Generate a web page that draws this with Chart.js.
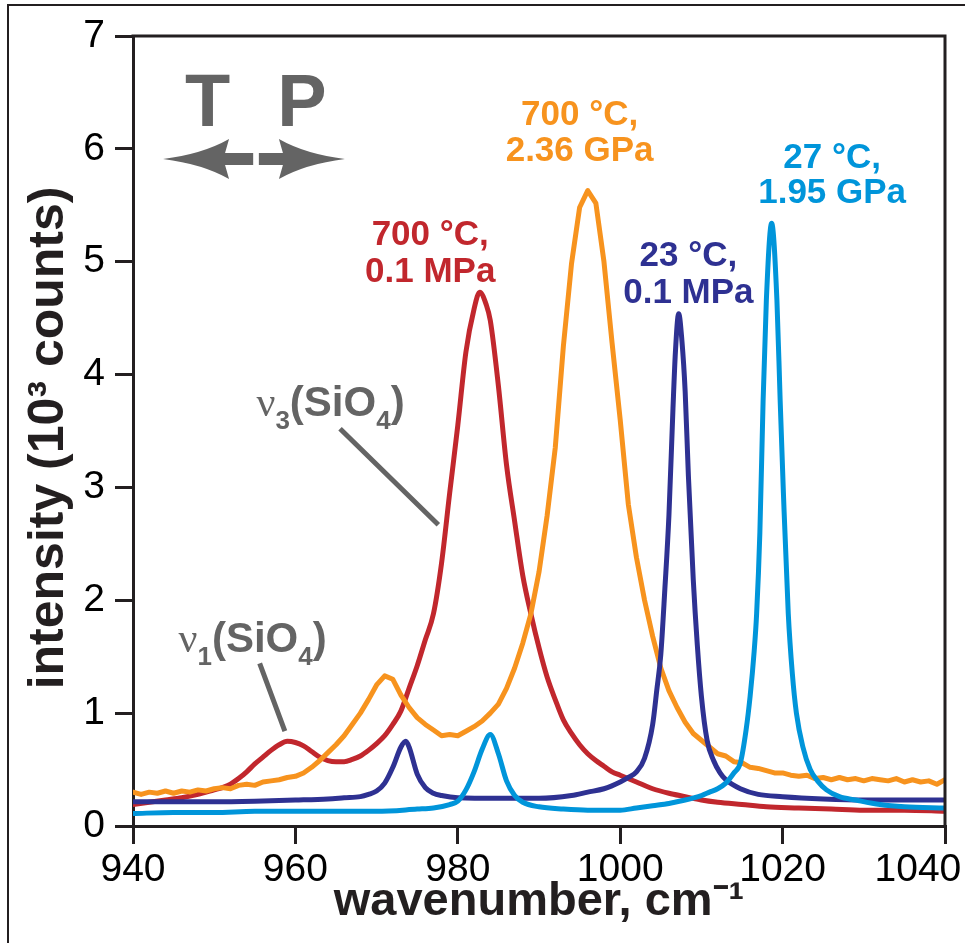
<!DOCTYPE html>
<html>
<head>
<meta charset="utf-8">
<script src="https://cdn.jsdelivr.net/npm/chart.js@4.4.0/dist/chart.umd.min.js"></script>
<style>
  html, body { margin: 0; padding: 0; background: #fff; }
  #wrap { width: 965px; height: 943px; }
</style>
</head>
<body>
<div id="wrap"><canvas id="spectra" width="965" height="943"></canvas></div>
<script>
// spectra (wavenumber in cm-1, intensity in 10^3 counts)
const redX = [940, 942, 944, 946, 948, 950, 951, 952, 953, 954, 955, 956, 957, 958, 959, 960, 961, 962, 963, 964, 965, 966, 967, 968, 969, 970, 971, 972, 973, 974, 975, 976, 977, 978, 979, 980, 981, 982, 982.7, 983.5, 984, 985, 986, 987, 988, 989, 990, 991, 992, 993, 994, 995, 996, 997, 998, 999, 1000, 1002, 1004, 1006, 1008, 1010, 1012, 1015, 1018, 1022, 1026, 1030, 1035, 1040];
const redY = [0.19, 0.21, 0.23, 0.25, 0.28, 0.32, 0.34, 0.37, 0.42, 0.48, 0.55, 0.61, 0.67, 0.72, 0.75, 0.74, 0.71, 0.66, 0.61, 0.58, 0.57, 0.57, 0.59, 0.62, 0.67, 0.73, 0.80, 0.90, 1.02, 1.22, 1.42, 1.65, 1.88, 2.33, 2.95, 3.55, 4.20, 4.58, 4.73, 4.62, 4.48, 3.90, 3.20, 2.70, 2.22, 1.88, 1.58, 1.32, 1.12, 0.94, 0.82, 0.72, 0.64, 0.58, 0.53, 0.48, 0.45, 0.39, 0.33, 0.29, 0.26, 0.23, 0.21, 0.19, 0.17, 0.16, 0.15, 0.14, 0.14, 0.13];

const orangeX = [940, 941, 942, 943, 944, 945, 946, 947, 948, 949,
  950, 951, 952, 953, 954, 955, 956, 957, 958, 959,
  960, 961, 962, 963, 964, 965, 966, 967, 968, 969,
  970, 971, 972, 973, 974, 975, 976, 977, 978, 979,
  980, 981, 982, 983, 984, 985, 986, 987, 988, 989,
  990, 991, 992, 993, 994, 995, 996, 997, 998, 999,
  1000, 1001, 1002, 1003, 1004, 1005, 1006, 1007, 1008, 1009,
  1010, 1011, 1012, 1013, 1014, 1015, 1016, 1017, 1018, 1019,
  1020, 1021, 1022, 1023, 1024, 1025, 1026, 1027, 1028, 1029,
  1030, 1031, 1032, 1033, 1034, 1035, 1036, 1037, 1038, 1039, 1040];
const orangeY = [0.30, 0.28, 0.30, 0.29, 0.31, 0.29, 0.31, 0.30, 0.32, 0.31,
  0.33, 0.34, 0.33, 0.36, 0.37, 0.36, 0.39, 0.40, 0.41, 0.43,
  0.44, 0.47, 0.52, 0.58, 0.65, 0.72, 0.80, 0.90, 1.00, 1.12,
  1.25, 1.33, 1.30, 1.16, 1.05, 0.96, 0.90, 0.85, 0.80, 0.81,
  0.80, 0.84, 0.88, 0.93, 1.00, 1.08, 1.22, 1.40, 1.62, 1.88,
  2.25, 2.75, 3.35, 4.25, 4.98, 5.48, 5.63, 5.52, 5.00, 4.28,
  3.60, 2.85, 2.38, 2.00, 1.68, 1.40, 1.20, 1.05, 0.92, 0.82,
  0.76, 0.70, 0.64, 0.62, 0.57, 0.56, 0.52, 0.51, 0.49, 0.47,
  0.47, 0.45, 0.44, 0.45, 0.42, 0.43, 0.41, 0.43, 0.41, 0.42,
  0.40, 0.42, 0.41, 0.40, 0.42, 0.39, 0.41, 0.39, 0.40, 0.37, 0.41];

const navyX = [940, 945, 950, 955, 960, 964, 966, 968, 969, 970, 971, 972, 973, 973.6, 974, 975, 976, 977, 978, 980, 985, 990, 994, 996, 998, 1000, 1001, 1002, 1003, 1004, 1004.5, 1005, 1005.5, 1006, 1006.5, 1006.8, 1007.2, 1007.6, 1008, 1008.4, 1009, 1009.5, 1010, 1010.7, 1011.5, 1012.3, 1013, 1014.8, 1017, 1020, 1025, 1030, 1035, 1040];
const navyY = [0.215, 0.215, 0.215, 0.22, 0.23, 0.24, 0.25, 0.26, 0.28, 0.31, 0.38, 0.52, 0.70, 0.75, 0.70, 0.46, 0.34, 0.29, 0.27, 0.25, 0.245, 0.245, 0.27, 0.30, 0.33, 0.39, 0.43, 0.48, 0.60, 0.90, 1.20, 1.52, 2.10, 2.75, 3.70, 4.20, 4.54, 4.30, 3.85, 3.10, 2.18, 1.60, 1.15, 0.76, 0.58, 0.47, 0.41, 0.33, 0.28, 0.26, 0.24, 0.23, 0.23, 0.23];

const skyX = [940, 945, 950, 955, 960, 965, 970, 975, 977, 979, 980, 981, 982, 983, 984, 985, 986, 987, 988, 990, 993, 996, 1000, 1002, 1004, 1006, 1008, 1010, 1011, 1012, 1013, 1014, 1014.8, 1015.5, 1016, 1016.5, 1016.8, 1017.2, 1017.6, 1018, 1018.65, 1019.3, 1019.7, 1020.1, 1020.7, 1021.2, 1021.7, 1022.5, 1023.4, 1024.3, 1025.4, 1027, 1029, 1032, 1035, 1040];
const skyY = [0.11, 0.12, 0.12, 0.13, 0.13, 0.13, 0.13, 0.15, 0.16, 0.19, 0.22, 0.32, 0.48, 0.68, 0.81, 0.64, 0.40, 0.27, 0.21, 0.17, 0.15, 0.14, 0.14, 0.16, 0.18, 0.20, 0.23, 0.27, 0.30, 0.33, 0.38, 0.47, 0.56, 0.85, 1.15, 1.55, 1.88, 2.60, 3.77, 4.66, 5.34, 4.66, 3.77, 2.95, 1.88, 1.35, 1.00, 0.70, 0.50, 0.40, 0.32, 0.26, 0.23, 0.19, 0.17, 0.16];

const RED = '#c1272d', ORANGE = '#f7931e', NAVY = '#2e3192', SKY = '#0095da';
const GREY = '#646464', INK = '#231f20';
const SANS = '"Liberation Sans", Arial, Helvetica, sans-serif';

// condition labels: text lines, centre wavenumber, baseline intensity of each line
const peakLabels = [
    {lines: ['700 °C,', '0.1 MPa'], x: 976.6, y: [5.15, 4.82], color: RED},
    {lines: ['700 °C,', '2.36 GPa'], x: 995.0, y: [6.21, 5.89], color: ORANGE},
    {lines: ['23 °C,', '0.1 MPa'], x: 1008.4, y: [4.96, 4.63], color: NAVY},
    {lines: ['27 °C,', '1.95 GPa'], x: 1026.1, y: [5.83, 5.52], color: SKY}
];

function toPoints(xs, ys) {
    return xs.map((x, i) => ({x: x, y: ys[i]}));
}

function drawMode(ctx, x0, base, sub) {
    const parts = [
        ['ν', '42px "Liberation Serif", serif', 0],
        [sub, 'bold 26px ' + SANS, 13],
        ['(SiO', 'bold 42px ' + SANS, 0],
        ['4', 'bold 26px ' + SANS, 13],
        [')', 'bold 42px ' + SANS, 0]
    ];
    let cx = x0;
    parts.forEach(([t, f, dy]) => {
        ctx.font = f;
        ctx.fillText(t, cx, base + dy);
        cx += ctx.measureText(t).width;
    });
}

// arrow with swept head; dir = -1 points left, +1 points right
function drawArrow(ctx, tipX, tailX, cy, dir) {
    const headLen = 66, halfHead = 20, halfShaft = 6;
    const bx = tipX - dir * headLen;
    ctx.beginPath();
    ctx.moveTo(tipX, cy);
    ctx.quadraticCurveTo(tipX - dir * headLen * 0.6, cy - 5, bx, cy - halfHead);
    ctx.lineTo(bx + dir * 4, cy - halfShaft);
    ctx.lineTo(tailX, cy - halfShaft);
    ctx.lineTo(tailX, cy + halfShaft);
    ctx.lineTo(bx + dir * 4, cy + halfShaft);
    ctx.lineTo(bx, cy + halfHead);
    ctx.quadraticCurveTo(tipX - dir * headLen * 0.6, cy + 5, tipX, cy);
    ctx.closePath();
    ctx.fill();
}

const frame = {
    id: 'frame',
    beforeDraw(chart) {
        const ctx = chart.ctx;
        ctx.save();
        ctx.fillStyle = '#fff';
        ctx.fillRect(0, 0, chart.width, chart.height);
        ctx.strokeStyle = INK;
        ctx.lineWidth = 2;
        ctx.beginPath();
        ctx.moveTo(8, chart.height);
        ctx.lineTo(8, 5);
        ctx.lineTo(chart.width, 5);
        ctx.stroke();
        ctx.restore();
    },
    afterDraw(chart) {
        const {ctx, chartArea: a} = chart;
        ctx.save();
        ctx.strokeStyle = INK;
        ctx.lineWidth = 3;
        ctx.beginPath();
        ctx.moveTo(a.left - 1.5, a.top);
        ctx.lineTo(a.right, a.top);
        ctx.lineTo(a.right, a.bottom + 1.5);
        ctx.stroke();
        ctx.restore();
    }
};

const notes = {
    id: 'notes',
    afterDatasetsDraw(chart) {
        const {ctx, scales: {x, y}} = chart;
        const px = v => x.getPixelForValue(v);
        const py = v => y.getPixelForValue(v);
        ctx.save();

        //peak labels
        ctx.textAlign = 'center';
        ctx.textBaseline = 'alphabetic';
        ctx.font = 'bold 35px ' + SANS;
        peakLabels.forEach(l => {
            ctx.fillStyle = l.color;
            l.lines.forEach((t, i) => ctx.fillText(t, px(l.x), py(l.y[i])));
        });

        //T and P with arrows
        ctx.fillStyle = GREY;
        ctx.font = 'bold 74px ' + SANS;
        ctx.fillText('T', px(949.2), py(6.20));
        ctx.fillText('P', px(960.8), py(6.20));
        drawArrow(ctx, px(943.7), px(954.8), py(5.91), -1);
        drawArrow(ctx, px(966.1), px(955.5), py(5.91), 1);

        //mode labels and leader lines
        ctx.textAlign = 'left';
        drawMode(ctx, px(955.2), py(3.63), '3');
        drawMode(ctx, px(945.6), py(1.54), '1');
        ctx.strokeStyle = GREY;
        ctx.lineWidth = 5;
        ctx.beginPath();
        ctx.moveTo(px(965.5), py(3.52));
        ctx.lineTo(px(977.6), py(2.67));
        ctx.moveTo(px(955.6), py(1.44));
        ctx.lineTo(px(958.7), py(0.84));
        ctx.stroke();
        ctx.restore();
    }
};

const ctx = document.getElementById('spectra').getContext('2d');
const spectraChart = new Chart(ctx, {
    type: 'line',
    data: {
        datasets: [
            {label: '27 °C, 1.95 GPa', data: toPoints(skyX, skyY), borderColor: SKY, borderWidth: 5, cubicInterpolationMode: 'monotone'},
            {label: '23 °C, 0.1 MPa', data: toPoints(navyX, navyY), borderColor: NAVY, borderWidth: 5, cubicInterpolationMode: 'monotone'},
            {label: '700 °C, 2.36 GPa', data: toPoints(orangeX, orangeY), borderColor: ORANGE, borderWidth: 5, tension: 0},
            {label: '700 °C, 0.1 MPa', data: toPoints(redX, redY), borderColor: RED, borderWidth: 5, cubicInterpolationMode: 'monotone'}
        ]
    },
    options: {
        responsive: false,
        animation: false,
        layout: {padding: {top: 36, right: 20, left: 0, bottom: 0}},
        plugins: {
            legend: {display: false},
            tooltip: {enabled: false}
        },
        elements: {
            point: {radius: 0},
            line: {borderJoinStyle: 'round', borderCapStyle: 'round', fill: false}
        },
        scales: {
            x: {
                type: 'linear',
                min: 940,
                max: 1040,
                afterFit: s => { s.height = 117; s.paddingLeft = 0; s.paddingRight = 0; },
                ticks: {
                    stepSize: 20,
                    padding: 3,
                    maxRotation: 0,
                    autoSkip: false,
                    color: '#000',
                    font: {family: SANS, size: 39},
                    callback: v => v === 1040 ? '1040     ' : String(v)
                },
                grid: {drawOnChartArea: false, drawTicks: true, tickLength: 18, lineWidth: 3, color: INK},
                border: {display: true, width: 3, color: INK},
                title: {
                    display: true,
                    text: 'wavenumber, cm⁻¹',
                    color: INK,
                    font: {family: SANS, size: 47, weight: 'bold'},
                    padding: {top: 0, bottom: 13}
                }
            },
            y: {
                min: 0,
                max: 7,
                afterFit: s => { s.width = 133; s.paddingTop = 0; s.paddingBottom = 0; },
                ticks: {
                    stepSize: 1,
                    padding: 10,
                    color: '#000',
                    font: {family: SANS, size: 39}
                },
                grid: {drawOnChartArea: false, drawTicks: true, tickLength: 18, lineWidth: 3, color: INK},
                border: {display: true, width: 3, color: INK},
                title: {
                    display: true,
                    text: 'intensity (10³ counts) ',
                    color: INK,
                    font: {family: SANS, size: 50, weight: 'bold'},
                    padding: {top: 19, bottom: 0}
                }
            }
        }
    },
    plugins: [frame, notes]
});
</script>
</body>
</html>
